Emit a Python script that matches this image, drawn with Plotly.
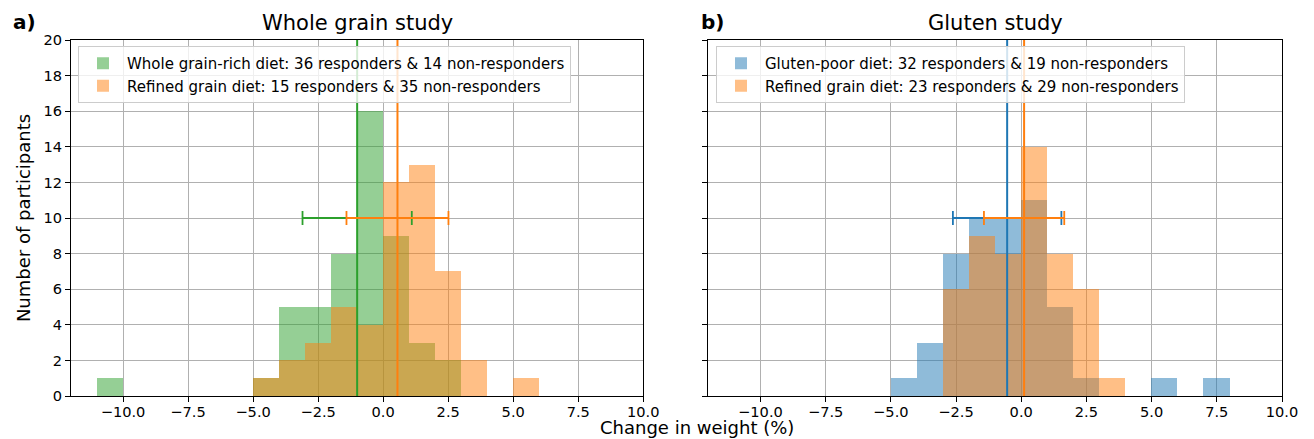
import plotly.graph_objects as go

# ---------------- data ----------------
bin_left = [-11, -10, -9, -8, -7, -6, -5, -4, -3, -2, -1, 0, 1, 2, 3, 4, 5, 6, 7]

wg_whole = [1, 0, 0, 0, 0, 0, 1, 5, 5, 8, 16, 9, 3, 2, 0, 0, 0, 0, 0]
wg_refined = [0, 0, 0, 0, 0, 0, 1, 2, 3, 5, 4, 12, 13, 7, 2, 0, 1, 0, 0]

gl_poor = [0, 0, 0, 0, 0, 0, 1, 3, 8, 10, 10, 11, 5, 1, 0, 0, 1, 0, 1]
gl_refined = [0, 0, 0, 0, 0, 0, 0, 0, 6, 9, 8, 14, 8, 6, 1, 0, 0, 0, 0]

# median lines and spread (error bars drawn at y = 10)
wg_whole_center, wg_whole_spread = -1.0, 2.1
wg_refined_center, wg_refined_spread = 0.55, 1.96
gl_poor_center, gl_poor_spread = -0.54, 2.08
gl_refined_center, gl_refined_spread = 0.11, 1.54
errbar_level = 10

labels_wg = ["Whole grain-rich diet: 36 responders & 14 non-responders",
             "Refined grain diet: 15 responders & 35 non-responders"]
labels_gl = ["Gluten-poor diet: 32 responders & 19 non-responders",
             "Refined grain diet: 23 responders & 29 non-responders"]

x_ticks = [-10.0, -7.5, -5.0, -2.5, 0.0, 2.5, 5.0, 7.5, 10.0]
y_ticks = list(range(0, 21, 2))

# ---------------- style ----------------
GREEN, ORANGE, BLUE = "#2ca02c", "#ff7f0e", "#1f77b4"
FONT = "DejaVu Sans"
W, H = 1314, 439
PX0, PX1, PY0, PY1 = 71, 1282, 40, 396
PW, PH = PX1 - PX0, PY1 - PY0


def fx(p):
    return (p - PX0) / PW


def fy(p):
    return (PY1 - p) / PH


def rgba(hexc, a):
    h = hexc.lstrip("#")
    return "rgba(%d,%d,%d,%s)" % (int(h[0:2], 16), int(h[2:4], 16), int(h[4:6], 16), a)


centers = [b + 0.5 for b in bin_left]

fig = go.Figure()


def add_panel(xa, ya, legend_name, series, cols, labels, lines):
    for vals, col, lab in zip(series, cols, labels):
        fig.add_trace(go.Bar(
            x=centers, y=vals, width=1, name=lab,
            marker=dict(color=rgba(col, 0.5), line=dict(width=0)),
            xaxis=xa, yaxis=ya, legend=legend_name, showlegend=True,
            hoverinfo="skip"))
    for (c, s), col in zip(lines, cols):
        fig.add_trace(go.Scatter(
            x=[c, c], y=[y_ticks[0], y_ticks[-1]], mode="lines",
            line=dict(color=col, width=2), xaxis=xa, yaxis=ya,
            showlegend=False, hoverinfo="skip"))
    for (c, s), col in zip(lines, cols):
        fig.add_trace(go.Scatter(
            x=[c], y=[errbar_level], mode="markers",
            marker=dict(size=1, opacity=0),
            error_x=dict(type="data", array=[s], symmetric=True,
                         color=col, thickness=1.8, width=7),
            xaxis=xa, yaxis=ya, showlegend=False, hoverinfo="skip"))


add_panel("x", "y", "legend", [wg_whole, wg_refined], [GREEN, ORANGE], labels_wg,
          [(wg_whole_center, wg_whole_spread), (wg_refined_center, wg_refined_spread)])
add_panel("x2", "y2", "legend2", [gl_poor, gl_refined], [BLUE, ORANGE], labels_gl,
          [(gl_poor_center, gl_poor_spread), (gl_refined_center, gl_refined_spread)])

axis_common = dict(
    showline=True, linecolor="black", linewidth=1.2, mirror=True,
    ticks="outside", ticklen=5, tickwidth=1.2, tickcolor="black",
    showgrid=True, gridcolor="#b0b0b0", gridwidth=1, zeroline=False,
    tickfont=dict(family=FONT, size=14.6, color="black"),
)

xaxis_common = dict(axis_common, range=[-12, 10], tickmode="array", ticklabelstandoff=-3,
                    tickvals=x_ticks, ticktext=["%.1f" % v if v >= 0 else "\u2212%.1f" % -v for v in x_ticks])
yaxis_common = dict(axis_common, range=[0, 20], tickmode="array", tickvals=y_ticks)

left_end = fx(643.3)
right_start = fx(708.3)

legend_common = dict(
    bgcolor="rgba(255,255,255,0.8)", bordercolor="#cccccc", borderwidth=1,
    font=dict(family=FONT, size=15, color="black"),
    xanchor="left", yanchor="top", traceorder="normal",
    itemwidth=38, tracegroupgap=0,
)

fig.update_layout(
    width=W, height=H,
    margin=dict(l=PX0, r=W - PX1, t=PY0, b=H - PY1, autoexpand=False),
    paper_bgcolor="white", plot_bgcolor="white",
    barmode="overlay", bargap=0,
    font=dict(family=FONT, color="black"),
    xaxis=dict(xaxis_common, domain=[0, left_end], anchor="y"),
    yaxis=dict(yaxis_common, domain=[0, 1], anchor="x",
               title=dict(text="Number of participants",
                          font=dict(family=FONT, size=18, color="black"), standoff=8)),
    xaxis2=dict(xaxis_common, domain=[right_start, 1], anchor="y2"),
    yaxis2=dict(yaxis_common, domain=[0, 1], anchor="x2", showticklabels=False),
    legend=dict(legend_common, x=fx(78), y=fy(46)),
    legend2=dict(legend_common, x=fx(716), y=fy(46)),
    annotations=[
        dict(text="Whole grain study", x=fx(357), y=fy(23), xref="paper", yref="paper",
             xanchor="center", yanchor="middle", showarrow=False,
             font=dict(family=FONT, size=21, color="black")),
        dict(text="Gluten study", x=fx((708.3 + 1282) / 2), y=fy(23), xref="paper", yref="paper",
             xanchor="center", yanchor="middle", showarrow=False,
             font=dict(family=FONT, size=21, color="black")),
        dict(text="<b>a)</b>", x=fx(11), y=fy(22), xref="paper", yref="paper",
             xanchor="left", yanchor="middle", showarrow=False,
             font=dict(family=FONT, size=20, color="black")),
        dict(text="<b>b)</b>", x=fx(699), y=fy(22), xref="paper", yref="paper",
             xanchor="left", yanchor="middle", showarrow=False,
             font=dict(family=FONT, size=20, color="black")),
        dict(text="Change in weight (%)", x=fx(697), y=fy(427), xref="paper", yref="paper",
             xanchor="center", yanchor="middle", showarrow=False,
             font=dict(family=FONT, size=18, color="black")),
    ],
)

fig.write_html("out.html",
               config={"displayModeBar": False},
               post_script="document.body.style.margin='0';document.body.style.padding='0';")
